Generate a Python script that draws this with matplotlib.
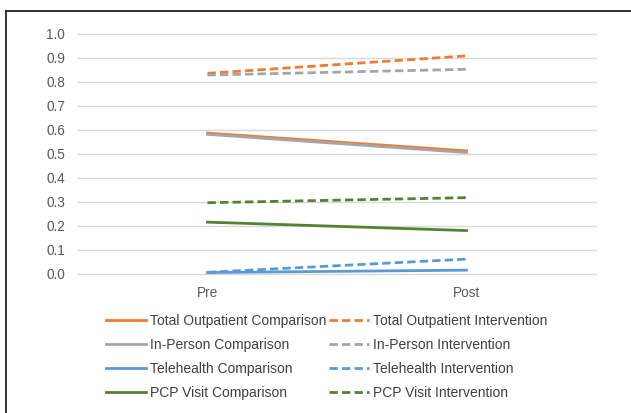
import matplotlib
matplotlib.use("Agg")
import matplotlib.pyplot as plt
from matplotlib.lines import Line2D

plt.rcParams['font.family'] = ['Liberation Sans', 'DejaVu Sans']

periods = ["Pre", "Post"]
labels = [
    "Total Outpatient Comparison", "Total Outpatient Intervention",
    "In-Person Comparison", "In-Person Intervention",
    "Telehealth Comparison", "Telehealth Intervention",
    "PCP Visit Comparison", "PCP Visit Intervention",
]
total_comp = [0.587, 0.513]
total_int = [0.836, 0.909]
inperson_comp = [0.582, 0.506]
inperson_int = [0.829, 0.853]
tele_comp = [0.006, 0.016]
tele_int = [0.007, 0.062]
pcp_comp = [0.216, 0.181]
pcp_int = [0.297, 0.318]
series = [total_comp, total_int, inperson_comp, inperson_int,
          tele_comp, tele_int, pcp_comp, pcp_int]
colors = ["#ED7D31", "#ED7D31", "#A5A5A5", "#A5A5A5",
          "#5B9BD5", "#5B9BD5", "#548235", "#548235"]
styles = ["-", "--"] * 4

fig = plt.figure(figsize=(6.31, 4.13), dpi=100)
ax = fig.add_axes([0.1236, 0.3366, 0.8209, 0.5811])

x = [0, 1]
for vals, lab, c, ls in zip(series, labels, colors, styles):
    if ls == "--":
        ax.plot(x, vals, color=c, lw=2, ls=(0, (3.0, 1.5)), label=lab,
                dash_capstyle="butt")
    else:
        ax.plot(x, vals, color=c, lw=2, ls="-", label=lab)

ax.set_xlim(-0.5, 1.5)
ax.set_ylim(0, 1.0)
ax.set_yticks([i / 10 for i in range(11)])
ax.set_yticklabels([f"{i / 10:.1f}" for i in range(11)])
ax.set_xticks(x)
ax.set_xticklabels(periods)
ax.tick_params(axis="both", length=0, labelsize=9.8, colors="#595959")
ax.tick_params(axis="y", pad=9.4)
ax.tick_params(axis="x", pad=9)
ax.grid(axis="y", color="#D9D9D9", lw=1)
ax.set_axisbelow(True)
for gl in ax.get_ygridlines():
    gl.set_clip_on(False)
for s in ax.spines.values():
    s.set_visible(False)

# legend fills column-wise: comparisons in column 1, interventions in column 2
handles, labs = ax.get_legend_handles_labels()
order = [0, 2, 4, 6, 1, 3, 5, 7]
leg = fig.legend([handles[i] for i in order], [labs[i] for i in order],
                 ncol=2, loc="upper left",
                 bbox_to_anchor=(0.168, 0.240), frameon=False,
                 fontsize=10, handlelength=2.9, handletextpad=0.3,
                 columnspacing=0.15, labelspacing=0.72, borderaxespad=0,
                 borderpad=0)
for t in leg.get_texts():
    t.set_color("#404040")

# cropped frame border
fig.add_artist(Line2D([6 / 631, 6 / 631], [0, 1 - 11 / 413], color="#222222", lw=1.3))
fig.add_artist(Line2D([6 / 631, 1], [1 - 11 / 413, 1 - 11 / 413], color="#222222", lw=1.3))

fig.savefig("out.png", dpi=100)
